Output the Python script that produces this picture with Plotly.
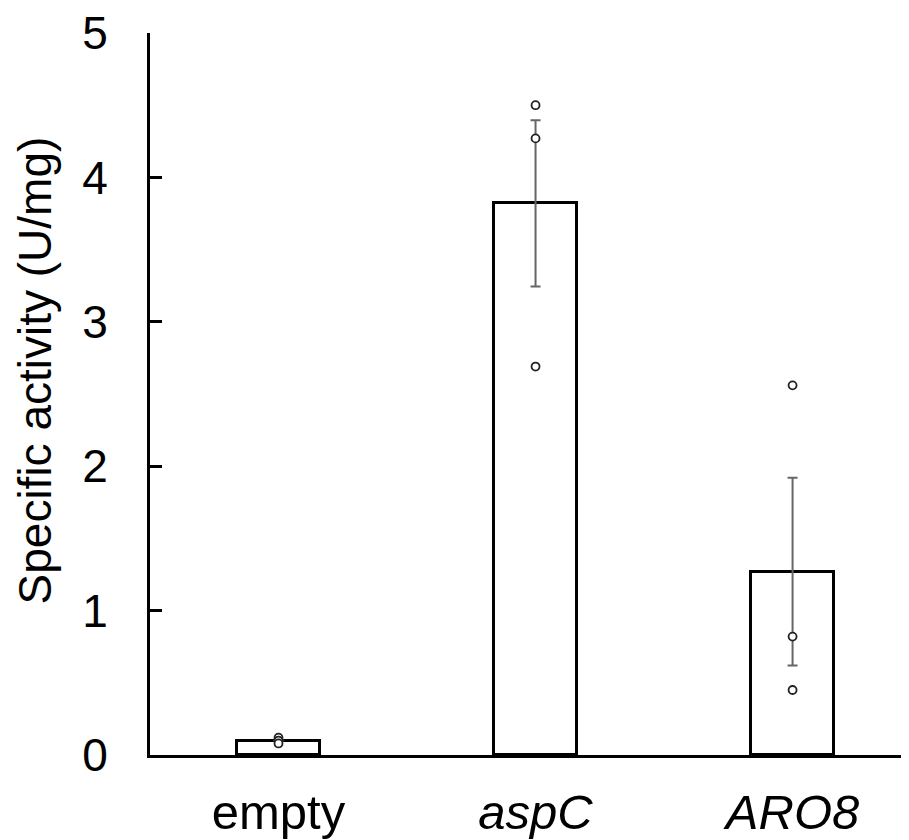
import plotly.graph_objects as go

categories = ["empty", "aspC", "ARO8"]
tick_labels = ["empty", "<i>aspC</i>", "<i>ARO8</i>"]
means = [0.10, 3.82, 1.27]
errors = [0.0, 0.575, 0.65]
replicates = [
    [0.12, 0.10, 0.08],
    [4.50, 4.27, 2.69],
    [2.56, 0.82, 0.45],
]

FONT = "Liberation Sans, Arial, sans-serif"

# page body has an 8px default margin: figure is drawn at (8, 8)
fig = go.Figure()
fig.add_trace(go.Bar(
    x=categories, y=means, width=0.32,
    marker=dict(color="white", line=dict(color="black", width=3)),
    error_y=dict(type="data", array=errors, visible=True,
                 color="#666666", thickness=2, width=5),
    showlegend=False,
))
px_, py_ = [], []
for c, vals in zip(categories, replicates):
    for v in vals:
        px_.append(c)
        py_.append(v)
fig.add_trace(go.Scatter(
    x=px_, y=py_, mode="markers",
    marker=dict(symbol="circle", size=8, color="white",
                line=dict(color="#222222", width=1.8)),
    showlegend=False,
))

fig.update_layout(
    width=901, height=832,
    margin=dict(l=142, r=0, t=25, b=85),
    plot_bgcolor="white", paper_bgcolor="white",
    font=dict(family=FONT, color="black"),
    bargap=0,
)
fig.update_xaxes(
    type="category", range=[-0.5, 2.453],
    tickvals=categories, ticktext=tick_labels,
    tickfont=dict(size=49, family=FONT, color="black"),
    showline=True, linecolor="black", linewidth=3,
    ticks="", showgrid=False, zeroline=False,
    ticklabelstandoff=12, automargin=False, ticklabeloverflow="allow",
)
fig.update_yaxes(
    range=[0, 5], tickvals=[0, 1, 2, 3, 4, 5],
    tickfont=dict(size=46, family=FONT, color="black"),
    showline=True, linecolor="black", linewidth=3,
    ticks="inside", ticklen=12, tickwidth=2.5, tickcolor="black",
    showgrid=False, zeroline=False,
    ticklabelstandoff=30, automargin=False, ticklabeloverflow="allow",
)
fig.add_annotation(
    text="Specific activity (U/mg)", textangle=-90,
    xref="paper", yref="paper", x=-142/759, xanchor="left",
    xshift=0, y=0.5326, yanchor="middle", showarrow=False,
    borderpad=0,
    font=dict(size=46, family=FONT, color="black"),
)

fig.write_html("out.html")
